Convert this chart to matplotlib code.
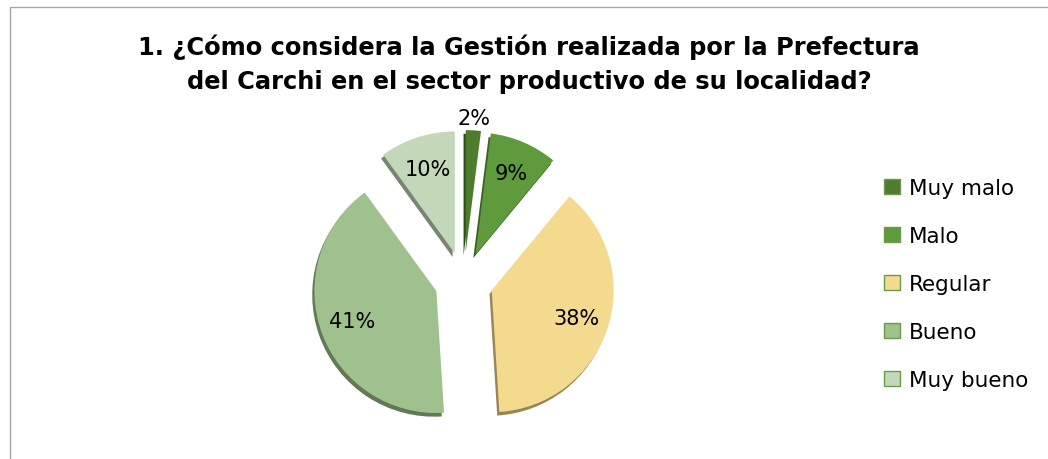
import matplotlib
matplotlib.use("Agg")
import matplotlib.pyplot as plt
import matplotlib.patches as mpatches
import matplotlib.colors as mcolors
import numpy as np

# data
labels = ['Muy malo', 'Malo', 'Regular', 'Bueno', 'Muy bueno']
values = [2, 9, 38, 41, 10]
colors = ['#4E7D2E', '#5F9A3D', '#F3DA8E', '#9FC18D', '#C3D7B9']
edge_legend = '#6A9A4A'

title = '1. ¿Cómo considera la Gestión realizada por la Prefectura\ndel Carchi en el sector productivo de su localidad?'

fig = plt.figure(figsize=(10.48, 4.6), dpi=100)

# outer frame (only left/top visible in the reference)
frame = mpatches.Rectangle((10/1048, -0.5), 2.0, 0.5 + 1 - 8/460, transform=fig.transFigure,
                           fill=False, edgecolor='#A6A6A6', linewidth=1.0)
fig.patches.append(frame)

ax = fig.add_axes([0.2914, 0.042, 0.3025, 0.689])
explode = [0.24] * len(values)

# darker copy underneath -> fake 3d thickness
dark = [tuple(np.array(mcolors.to_rgb(c)) * 0.62) for c in colors]
ax.pie(values, colors=dark, startangle=90, counterclock=False, explode=explode,
       center=(-0.018, -0.03), wedgeprops=dict(linewidth=0))

wedges, texts, autotexts = ax.pie(values, colors=colors, startangle=90, counterclock=False,
                                  explode=explode, autopct='%1.0f%%',
                                  pctdistance=0.73, radius=1.0,
                                  wedgeprops=dict(linewidth=0),
                                  textprops=dict(fontsize=15, color='#000000'))
ax.set_xlim(-1.3, 1.3)
ax.set_ylim(-1.3, 1.3)
ax.set_aspect('auto')

# small slice: label outside
w = wedges[0]
mid = np.deg2rad((w.theta1 + w.theta2) / 2)
cx, cy = w.center
autotexts[0].set_position((cx + 1.1 * np.cos(mid), cy + 1.1 * np.sin(mid)))

fig.text(0.505, 0.86, title, ha='center', va='center', fontsize=17.4, fontweight='bold',
         linespacing=1.5)

handles = [mpatches.Patch(facecolor=c, edgecolor=edge_legend, linewidth=1) for c in colors]
fig.legend(handles, labels, loc='center left', bbox_to_anchor=(0.8255, 0.38), frameon=False,
           fontsize=15.5, handlelength=0.7, handleheight=0.7, handletextpad=0.45,
           labelspacing=1.3)

fig.savefig('out.png', dpi=100)
